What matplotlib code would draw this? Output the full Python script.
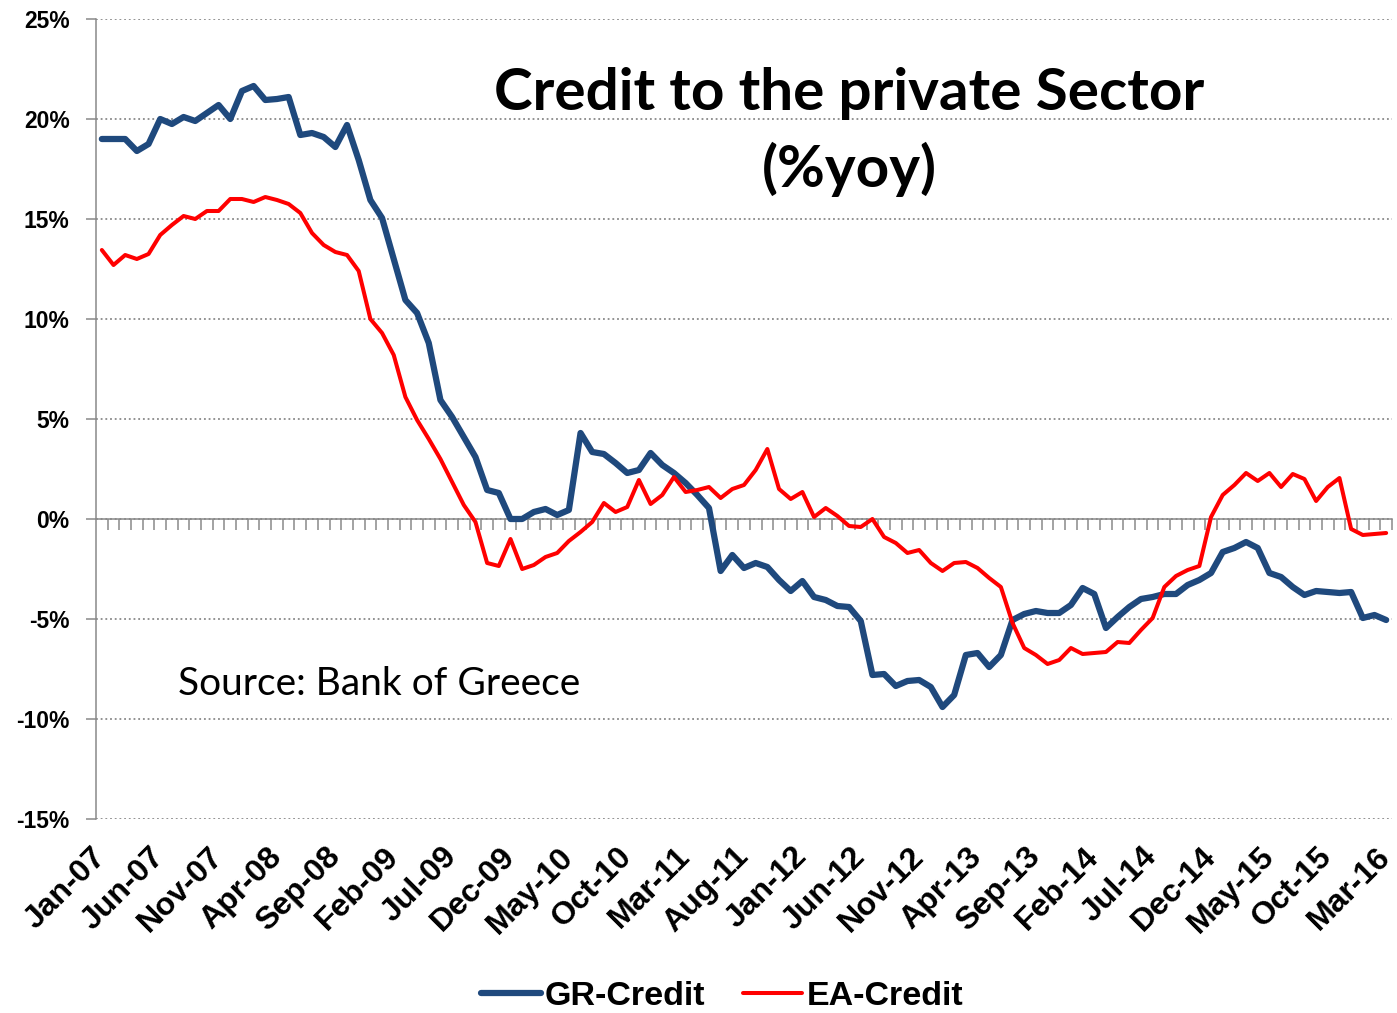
import numpy as np
import pandas as pd
import matplotlib
matplotlib.use("Agg")
import matplotlib.pyplot as plt

# monthly credit growth, % yoy, Jan-07 .. Mar-16
months = pd.date_range("2007-01-01", periods=111, freq="MS").strftime("%b-%y")

gr_credit = [19.0, 19.0, 19.0, 18.4, 18.75, 20.0, 19.75, 20.1, 19.9, 20.3,
             20.7, 20.0, 21.4, 21.65, 20.95, 21.0, 21.1, 19.2, 19.3, 19.1,
             18.6, 19.7, 17.95, 15.95, 15.05, 13.0, 10.95, 10.3, 8.8, 5.95,
             5.1, 4.1, 3.1, 1.45, 1.3, 0.0, 0.0, 0.35, 0.5, 0.2,
             0.45, 4.3, 3.35, 3.25, 2.8, 2.3, 2.45, 3.3, 2.7, 2.3,
             1.8, 1.2, 0.55, -2.6, -1.8, -2.45, -2.2, -2.4, -3.05, -3.6,
             -3.1, -3.9, -4.05, -4.35, -4.4, -5.1, -7.8, -7.75, -8.35, -8.1,
             -8.05, -8.4, -9.4, -8.8, -6.8, -6.7, -7.4, -6.8, -5.05, -4.75,
             -4.6, -4.7, -4.7, -4.3, -3.45, -3.75, -5.45, -4.9, -4.4, -4.0,
             -3.9, -3.75, -3.75, -3.3, -3.05, -2.7, -1.65, -1.45, -1.15, -1.45,
             -2.7, -2.9, -3.4, -3.8, -3.6, -3.65, -3.7, -3.65, -4.95, -4.8, -5.05]

ea_credit = [13.45, 12.7, 13.2, 13.0, 13.25, 14.2, 14.7, 15.15, 15.0, 15.4,
             15.4, 16.0, 16.0, 15.85, 16.1, 15.95, 15.75, 15.3, 14.3, 13.7,
             13.35, 13.2, 12.4, 10.0, 9.3, 8.2, 6.1, 4.95, 4.0, 3.0,
             1.85, 0.7, -0.15, -2.2, -2.35, -1.0, -2.5, -2.3, -1.9, -1.7,
             -1.1, -0.65, -0.15, 0.8, 0.35, 0.6, 1.95, 0.75, 1.2, 2.1,
             1.35, 1.45, 1.6, 1.05, 1.5, 1.7, 2.45, 3.5, 1.5, 1.0,
             1.35, 0.1, 0.55, 0.15, -0.35, -0.4, 0.0, -0.9, -1.2, -1.7,
             -1.55, -2.2, -2.6, -2.2, -2.15, -2.45, -2.95, -3.4, -5.2, -6.45,
             -6.8, -7.25, -7.05, -6.45, -6.75, -6.7, -6.65, -6.15, -6.2, -5.55,
             -4.95, -3.4, -2.85, -2.55, -2.35, 0.1, 1.2, 1.7, 2.3, 1.9,
             2.3, 1.6, 2.25, 2.0, 0.9, 1.6, 2.05, -0.5, -0.8, -0.75, -0.7]

y_ticks = [-15, -10, -5, 0, 5, 10, 15, 20, 25]

GRAY = "#898989"
W, H = 1397, 1013

fig = plt.figure(figsize=(W / 100, H / 100), dpi=100)
ax = fig.add_axes([96 / W, 1 - 819 / H, (1392 - 96) / W, 800 / H])

x = np.arange(len(months))
ax.plot(x, gr_credit, color="#1F497D", lw=4.5, solid_capstyle="round",
        solid_joinstyle="round", label="GR-Credit", zorder=4)
ax.plot(x, ea_credit, color="#FF0000", lw=2.9, solid_capstyle="round",
        solid_joinstyle="round", label="EA-Credit", zorder=5)

ax.set_xlim(-0.5, len(months) - 0.5)
ax.set_ylim(-15, 25)

# y axis
ax.set_yticks(y_ticks)
ax.set_yticklabels([f"{v}%" for v in y_ticks], fontfamily="Liberation Sans",
                   fontweight="bold", fontsize=16.5)
ax.tick_params(axis="y", length=7, width=1.1, color=GRAY, pad=12)
ax.yaxis.grid(True, color=GRAY, lw=1.3, linestyle=(0, (1, 1.6)))
ax.set_axisbelow(True)

for s in ("top", "right", "bottom"):
    ax.spines[s].set_visible(False)
ax.spines["left"].set_color(GRAY)
ax.spines["left"].set_linewidth(1.1)

# category labels every 5 months, at the bottom of the plot
ax.set_xticks(x[::5])
ax.set_xticklabels(months[::5], rotation=45, ha="right", va="center",
                   rotation_mode="anchor", fontfamily="Liberation Sans",
                   fontweight="bold", fontsize=23)
ax.tick_params(axis="x", length=0, pad=24)

# zero line with monthly ticks between categories
zero = ax.secondary_xaxis(0, transform=ax.transData)
zero.set_xticks(np.arange(0.5, len(months), 1.0))
zero.set_xticklabels([])
zero.xaxis.set_ticks_position("bottom")
zero.tick_params(axis="x", direction="out", length=8, width=1.1, color=GRAY)
zero.spines["bottom"].set_color(GRAY)
zero.spines["bottom"].set_linewidth(1.1)
zero.spines["top"].set_visible(False)

fig.text(849 / W, 1 - 94 / H, "Credit to the private Sector", ha="center",
         va="center", fontfamily="Lato", fontweight="bold", fontsize=42)
fig.text(849 / W, 1 - 169 / H, "(%yoy)", ha="center", va="center",
         fontfamily="Lato", fontweight="bold", fontsize=42)
fig.text(178 / W, 1 - 684 / H, "Source: Bank of Greece", ha="left",
         va="center", fontfamily="Lato", fontsize=28)

fig.legend(loc="center", bbox_to_anchor=(722 / W, 1 - 996 / H), ncol=2,
           frameon=False, handlelength=1.75, handletextpad=0.12,
           columnspacing=1.1,
           prop={"family": "Liberation Sans", "weight": "bold", "size": 24.5})

fig.savefig("out.png", dpi=100, facecolor="white")
